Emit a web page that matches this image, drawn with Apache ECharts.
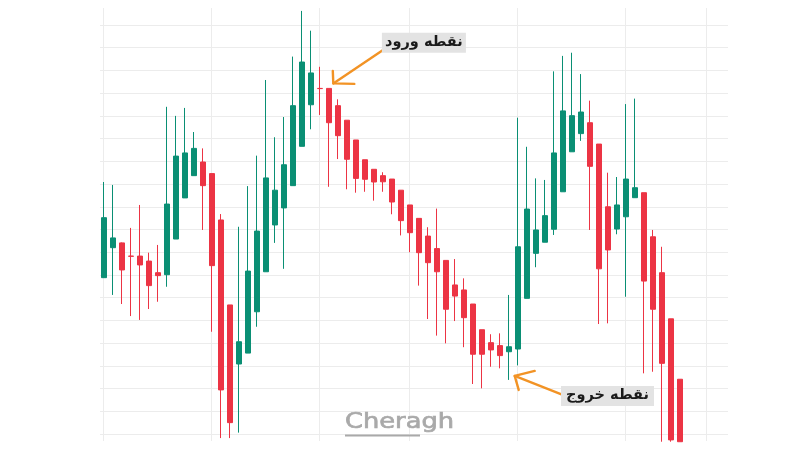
<!DOCTYPE html>
<html>
<head>
<meta charset="utf-8">
<script src="https://cdn.jsdelivr.net/npm/echarts@6/dist/echarts.min.js"></script>
<style>
  html, body { margin: 0; padding: 0; background: #ffffff; }
  #chart { width: 800px; height: 450px; }
</style>
</head>
<body>
<div id="chart"></div>
<script>
// Sessions on the time axis: one empty slot before the first candle, five after the last.
const categories = [
  '0','1','2','3','4','5','6','7','8','9','10','11','12','13','14','15','16','17','18','19',
  '20','21','22','23','24','25','26','27','28','29','30','31','32','33','34','35','36','37','38','39',
  '40','41','42','43','44','45','46','47','48','49','50','51','52','53','54','55','56','57','58','59',
  '60','61','62','63','64','65','66','67','68','69','70'
];

// OHLC prices, one entry per candle (sessions 1..65)
const opens = [
  268.8, 282.0, 284.1, 278.3, 278.3, 276.1, 271.0, 270.1, 285.8, 303.9,
  313.7, 319.7, 314.6, 294.2, 256.8, 230.8, 235.6, 253.8, 271.4, 292.0,
  299.5, 309.3, 326.6, 344.9, 352.1, 352.1, 344.5, 338.1, 329.4, 320.7,
  316.5, 313.7, 312.2, 307.3, 300.8, 294.9, 287.1, 281.6, 276.4, 265.6,
  263.4, 257.2, 245.9, 240.2, 238.9, 236.2, 237.4, 259.7, 279.5, 284.4,
  290.1, 306.6, 324.2, 332.2, 337.0, 327.6, 300.0, 290.2, 295.6, 304.0,
  306.2, 286.8, 271.0, 250.7, 224.1
];
const closes = [
  295.2, 286.3, 272.2, 278.2, 274.4, 265.3, 269.7, 301.2, 322.3, 323.7,
  325.7, 309.3, 274.1, 219.4, 205.0, 240.6, 271.7, 289.3, 312.7, 307.3,
  318.5, 344.5, 363.7, 358.9, 352.0, 337.0, 331.3, 320.9, 312.5, 312.1,
  310.9, 311.0, 302.1, 293.9, 288.6, 279.8, 275.4, 271.4, 254.9, 260.7,
  251.2, 235.1, 235.1, 237.0, 234.5, 238.4, 282.4, 299.0, 289.8, 296.1,
  323.7, 342.2, 340.1, 341.7, 317.8, 272.7, 281.0, 300.8, 312.2, 308.4,
  267.3, 254.9, 231.1, 197.4, 196.6
];
const lows = [
  268.8, 261.2, 257.2, 251.9, 250.2, 255.0, 258.2, 264.8, 285.8, 303.9,
  313.7, 289.8, 245.0, 198.2, 198.2, 200.6, 235.6, 247.2, 271.4, 284.1,
  272.7, 309.3, 326.6, 334.1, 340.4, 308.8, 321.0, 307.7, 306.2, 306.6,
  302.7, 306.6, 296.7, 287.4, 280.0, 265.3, 250.6, 243.3, 239.9, 249.7,
  238.2, 222.0, 220.1, 229.6, 228.9, 223.8, 230.2, 259.7, 273.4, 284.4,
  287.6, 306.6, 324.2, 329.0, 289.8, 248.4, 248.7, 287.9, 260.4, 304.0,
  226.7, 227.4, 196.6, 196.6, 196.6
];
const highs = [
  310.9, 309.6, 284.3, 290.7, 300.8, 279.8, 283.2, 344.0, 340.0, 343.5,
  332.9, 325.7, 314.6, 296.8, 256.8, 291.2, 309.1, 322.5, 355.8, 330.6,
  339.5, 366.1, 386.2, 377.5, 361.6, 352.1, 347.3, 338.1, 329.4, 320.7,
  316.5, 315.2, 312.2, 307.3, 300.8, 294.9, 291.0, 299.2, 276.4, 277.0,
  268.5, 257.2, 245.9, 243.9, 244.3, 261.2, 339.2, 326.4, 312.5, 311.8,
  359.6, 366.4, 367.8, 358.4, 346.7, 327.6, 315.0, 313.1, 345.2, 347.6,
  306.2, 289.8, 282.4, 250.7, 224.1
];

// Price grid (horizontal lines) and the sessions that carry a vertical time line
const priceMin = 200;
const priceMax = 380;
const priceStep = 10;
const timeMarks = [1, 13, 25, 35, 47, 59, 68];

// Annotated sessions
const entrySession = 26;
const exitSession = 46;
const entryLabel = 'نقطه ورود';
const exitLabel = 'نقطه خروج';

const UP = '#0a8f74';
const DOWN = '#ec3444';
const GRID = '#ececec';
const ORANGE = '#f29325';

const candleData = [['-', '-', '-', '-']].concat(
  opens.map((o, i) => [o, closes[i], lows[i], highs[i]])
);

// Candle pane spans y 8..441 with the same px-per-price scale as the price grid (25..434)
const pxPerUnit = (434 - 25) / (priceMax - priceMin);

const chart = echarts.init(document.getElementById('chart'), null, { renderer: 'canvas' });

const option = {
  backgroundColor: '#ffffff',
  animation: false,
  grid: [
    // candles + vertical time lines
    { left: 94.7, right: 75.3, top: 8, bottom: 9 },
    // horizontal price lines
    { left: 100, right: 72, top: 25, bottom: 16 }
  ],
  xAxis: [
    {
      type: 'category',
      gridIndex: 0,
      data: categories,
      boundaryGap: false,
      axisLine: { show: false },
      axisTick: { show: false },
      axisLabel: { show: false },
      splitLine: {
        show: true,
        interval: (idx) => timeMarks.includes(idx),
        lineStyle: { color: GRID, width: 1 }
      }
    },
    { type: 'value', gridIndex: 1, show: false, min: 0, max: 1 }
  ],
  yAxis: [
    {
      type: 'value',
      gridIndex: 0,
      show: false,
      min: priceMin - (441 - 434) / pxPerUnit,
      max: priceMax + (25 - 8) / pxPerUnit
    },
    {
      type: 'value',
      gridIndex: 1,
      min: priceMin,
      max: priceMax,
      interval: priceStep,
      axisLine: { show: false },
      axisTick: { show: false },
      axisLabel: { show: false },
      splitLine: { show: true, lineStyle: { color: GRID, width: 1 } }
    }
  ],
  series: [
    {
      type: 'candlestick',
      xAxisIndex: 0,
      yAxisIndex: 0,
      data: candleData,
      barWidth: 5.5,
      clip: true,
      itemStyle: {
        color: UP,
        color0: DOWN,
        borderColor: UP,
        borderColor0: DOWN,
        borderWidth: 1
      }
    }
  ]
};

chart.setOption(option);

function arrowParts(tip, tail, armA, armB) {
  const st = { stroke: ORANGE, lineWidth: 2.4, fill: null, lineCap: 'round', lineJoin: 'round' };
  return [
    { type: 'polyline', z: 20, shape: { points: [tail, tip] }, style: st },
    { type: 'polyline', z: 20, shape: { points: [armA, tip, armB] }, style: st }
  ];
}

function labelBox(x, y, w, h, text) {
  return [
    { type: 'rect', z: 21, shape: { x: x, y: y, width: w, height: h }, style: { fill: '#e3e3e3' } },
    {
      type: 'text', z: 22, x: x + w / 2, y: y + h / 2 - 0.5,
      style: {
        text: text, fill: '#1a1a1a', font: 'bold 14.5px "DejaVu Sans"',
        align: 'center', verticalAlign: 'middle'
      }
    }
  ];
}

const pIn = chart.convertToPixel({ seriesIndex: 0 }, [entrySession, opens[entrySession - 1]]);
const pOut = chart.convertToPixel({ seriesIndex: 0 }, [exitSession, lows[exitSession - 1]]);

const tipIn = [pIn[0] + 4.6, pIn[1] - 5];
const tailIn = [tipIn[0] + 49, tipIn[1] - 33];
const tipOut = [pOut[0] + 6, pOut[1] - 4];
const tailOut = [tipOut[0] + 48, tipOut[1] + 19];

const elements = []
  .concat(arrowParts(tipIn, tailIn, [tipIn[0] - 0.5, tipIn[1] - 12.5], [tipIn[0] + 21, tipIn[1] + 0.5]))
  .concat(labelBox(tailIn[0] - 0.4, tailIn[1] - 17.7, 84, 20, entryLabel))
  .concat(arrowParts(tipOut, tailOut, [tipOut[0] + 20, tipOut[1] - 5], [tipOut[0] + 4, tipOut[1] + 14]))
  .concat(labelBox(tailOut[0] - 1.7, tailOut[1] - 9, 93, 20, exitLabel))
  .concat([
    {
      type: 'text', z: 30, x: 345, y: 422, scaleX: 1.17, originX: 0, originY: 0,
      style: {
        text: 'Cheragh', fill: '#a9a9a9', font: '22px "DejaVu Sans"',
        stroke: '#a9a9a9', lineWidth: 0.7,
        align: 'left', verticalAlign: 'middle'
      }
    },
    { type: 'rect', z: 30, shape: { x: 345, y: 434.5, width: 75, height: 2 }, style: { fill: '#a9a9a9' } }
  ]);

chart.setOption({ graphic: { elements: elements } });
</script>
</body>
</html>
